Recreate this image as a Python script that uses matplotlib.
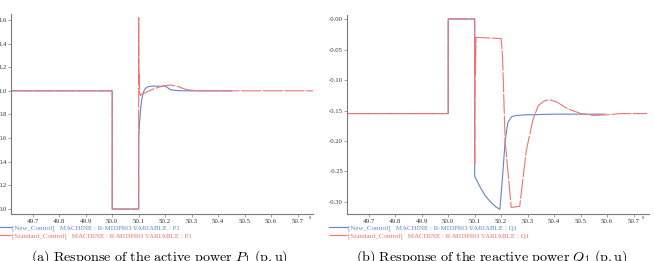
import numpy as np
import matplotlib
matplotlib.use("Agg")
import matplotlib.pyplot as plt

# active power P1 (p.u)
p_new_t = [49.62, 50.0, 50.0, 50.1, 50.1, 50.103, 50.107, 50.112, 50.118, 50.125,
           50.135, 50.15, 50.17, 50.19, 50.2, 50.21, 50.22, 50.24, 50.27, 50.3, 50.35, 50.45]
p_new = [1.0, 1.0, 0.0, 0.0, 0.6, 0.72, 0.84, 0.93, 0.99, 1.02,
         1.035, 1.04, 1.04, 1.038, 1.04, 1.025, 1.01, 1.003, 1.0, 1.0, 1.0, 1.0]

p_std_t = [49.62, 50.0, 50.0, 50.1, 50.1, 50.1005, 50.102, 50.104, 50.106, 50.11,
           50.13, 50.16, 50.19, 50.22, 50.25, 50.28, 50.32, 50.4, 50.76]
p_std = [1.0, 1.0, 0.0, 0.0, 1.62, 1.1, 1.14, 0.98, 0.96, 0.97,
         0.99, 1.02, 1.04, 1.05, 1.035, 1.01, 1.0, 1.0, 1.0]

# reactive power Q1 (p.u)
q_new_t = [49.62, 50.0, 50.0, 50.1, 50.1, 50.12, 50.14, 50.16, 50.18, 50.195,
           50.205, 50.215, 50.225, 50.24, 50.26, 50.3, 50.4, 50.59]
q_new = [-0.155, -0.155, 0.0, 0.0, -0.258, -0.275, -0.29, -0.3, -0.308, -0.312,
         -0.26, -0.2, -0.17, -0.16, -0.158, -0.157, -0.156, -0.156]

q_std_t = [49.62, 50.0, 50.0, 50.1, 50.1, 50.101, 50.103, 50.105, 50.15, 50.2,
           50.205, 50.215, 50.238, 50.27, 50.295, 50.32, 50.34, 50.36, 50.38, 50.41,
           50.45, 50.5, 50.55, 50.6, 50.65, 50.75]
q_std = [-0.155, -0.155, 0.0, 0.0, -0.24, -0.03, -0.09, -0.03, -0.031, -0.032,
         -0.06, -0.2, -0.309, -0.307, -0.215, -0.165, -0.142, -0.135, -0.132, -0.136,
         -0.147, -0.155, -0.158, -0.157, -0.155, -0.155]

x_ticks = [49.7, 49.8, 49.9, 50.0, 50.1, 50.2, 50.3, 50.4, 50.5, 50.6, 50.7]
x_labels = ["49.7", "49.8", "49.9", "50.0", "50.1", "50.2", "50.3", "50.4", "50.5", "50.6", "50.7"]
p_ticks = [0.0, 0.2, 0.4, 0.6, 0.8, 1.0, 1.2, 1.4, 1.6]
p_labels = ["0.0", "0.2", "0.4", "0.6", "0.8", "1.0", "1.2", "1.4", "1.6"]
q_ticks = [0.0, -0.05, -0.10, -0.15, -0.20, -0.25, -0.30]
q_labels = ["-0.00", "-0.05", "-0.10", "-0.15", "-0.20", "-0.25", "-0.30"]

BLUE = "#6384c8"
RED = "#f07272"
AXC = "#7a7a7a"

plt.rcParams["font.family"] = ["Liberation Serif", "DejaVu Serif"]
plt.rcParams["mathtext.fontset"] = "cm"

fig = plt.figure(figsize=(6.54, 2.61), dpi=100)
W, H = 654, 261


def make_axes(x0, x1, y0, y1):
    return fig.add_axes([x0 / W, 1 - y1 / H, (x1 - x0) / W, (y1 - y0) / H])


def style(ax, yticks, ylabels, ylim, var, s_x):
    ax.set_xlim(49.618, 50.758)
    ax.set_ylim(*ylim)
    ax.set_xticks(x_ticks, x_labels)
    ax.set_yticks(yticks, ylabels)
    for sp in ["top", "right"]:
        ax.spines[sp].set_visible(False)
    for sp in ["left", "bottom"]:
        ax.spines[sp].set_color(AXC)
        ax.spines[sp].set_linewidth(0.8)
    ax.tick_params(labelsize=5, length=2, width=0.5, color=AXC, pad=1.5,
                   labelcolor="#333333")
    ax.tick_params(axis="y", pad=0.8, labelsize=4.8)
    ax.text(s_x, -0.018, "s", transform=ax.transAxes, fontsize=4,
            ha="center", va="center", color="#333333")
    ax.legend(
        [f"[New_Control]   MACHINE : R-MIDPRO VARIABLE : {var}",
         f"[Standard_Control]   MACHINE : R-MIDPRO VARIABLE : {var}"],
        loc="upper left", bbox_to_anchor=(-0.058, -0.055), frameon=False,
        fontsize=5, handlelength=2.5, handletextpad=0.15, labelspacing=0.12,
        borderpad=0, borderaxespad=0, labelcolor="linecolor")


ax1 = make_axes(11, 313, 14, 214)
ax1.plot(p_new_t, p_new, color=BLUE, lw=0.8)
ax1.plot(p_std_t, p_std, color=RED, lw=0.8, dashes=(18, 1.5))
style(ax1, p_ticks, p_labels, (-0.042, 1.65), "P1", 0.99)

ax2 = make_axes(347, 649, 15, 214)
ax2.plot(q_new_t, q_new, color=BLUE, lw=0.8)
ax2.plot(q_std_t, q_std, color=RED, lw=0.8, dashes=(18, 1.5))
style(ax2, q_ticks, q_labels, (-0.3197, 0.0066), "Q1", 0.981)

fig.text(160 / W, 0.0, r"$\mathrm{(a)\ Response\ of\ the\ active\ power\ }P_1\mathrm{\ (p.u)}$",
         ha="center", va="baseline", fontsize=10.2)
fig.text(492 / W, 0.0, r"$\mathrm{(b)\ Response\ of\ the\ reactive\ power\ }Q_1\mathrm{\ (p.u)}$",
         ha="center", va="baseline", fontsize=10.2)

fig.savefig("out.png", dpi=100)
